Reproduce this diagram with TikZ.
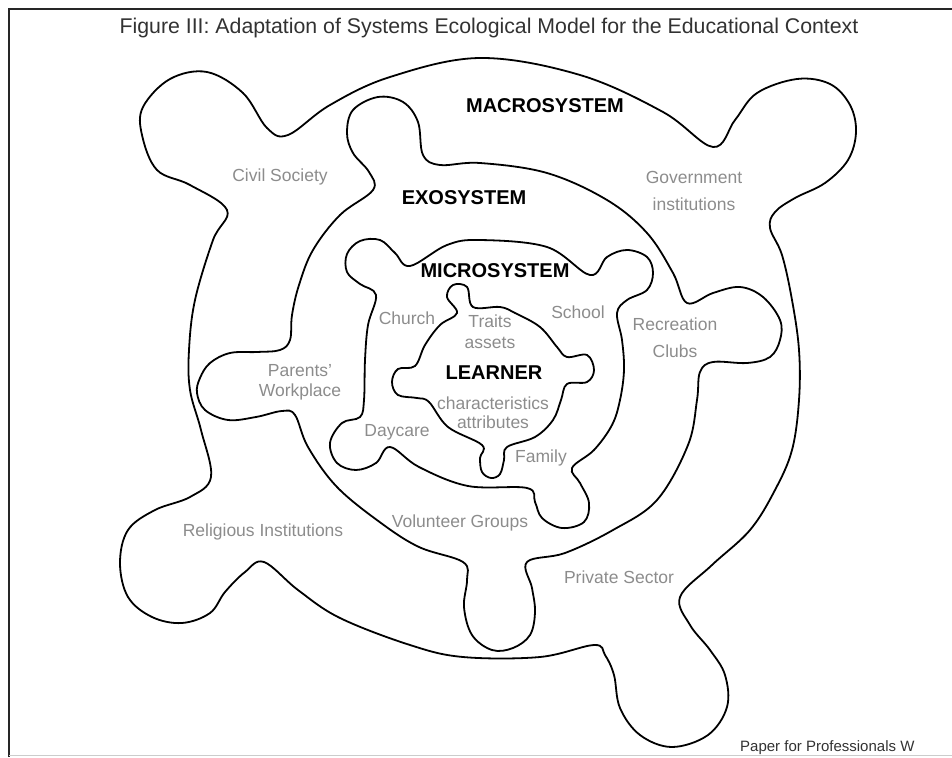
\documentclass[tikz,border=0pt]{standalone}
\usepackage{fontspec}
\setmainfont{Liberation Sans}
\usepackage{xcolor}
\usepackage{tikz}
\usetikzlibrary{positioning, calc}
\definecolor{labelgray}{RGB}{140,140,140}
\definecolor{titlegray}{RGB}{50,50,50}

\begin{document}
\begin{tikzpicture}[x=1pt, y=-1pt,
    ring/.style={draw=black, line width=1.8pt, smooth cycle, tension=0.6},
    system/.style={font=\fontsize{20}{20}\selectfont\bfseries, text=black, inner sep=0pt},
    setting/.style={font=\fontsize{17.5}{21}\selectfont, text=labelgray, align=center, inner sep=0pt}
]
    \useasboundingbox (0,0) rectangle (952,757);
    \draw[line width=2.5pt, black!85] (9,757) -- (9,9) -- (952,9);
    \draw[line width=1pt, black!20] (9,755) -- (952,755);

    \node[font=\fontsize{21.3}{22}\selectfont, text=titlegray] (title) at (489,28) {Figure III: Adaptation of Systems Ecological Model for the Educational Context};

    % macrosystem
    \draw[ring] plot coordinates {(480,58) (580,75) (663,112) (713,147) (735,120) (757,93) (797,79) (830,84) (850,105) (856,132) (848,160) (825,183) (795,198) (775,212) (770,228) (782,255) (792,300) (799,350) (799,400) (792,450) (775,490) (750,530) (712,565) (680,597) (690,625) (710,650) (725,675) (727,707) (708,735) (672,747) (640,735) (620,708) (614,675) (605,655) (594,645) (540,657) (463,657) (410,645) (340,618) (298,590) (264,562) (245,572) (225,592) (210,613) (182,623) (152,617) (128,597) (120,563) (128,530) (155,510) (190,497) (211,477) (201,430) (190,390) (189,350) (195,300) (213,240) (227,210) (190,185) (157,170) (142,135) (143,107) (170,79) (207,72) (243,93) (267,128) (288,135) (330,105) (390,77)};
    % exosystem
    \draw[ring] plot coordinates {(480,163) (547,173) (607,200) (647,233) (673,273) (687,303) (713,293) (740,287) (763,297) (780,320) (780,340) (770,357) (747,363) (713,362) (700,372) (697,400) (688,445) (657,500) (613,530) (565,553) (527,562) (532,588) (535,612) (530,635) (513,648) (492,650) (472,635) (464,607) (467,580) (463,562) (419,547) (381,523) (337,487) (308,447) (295,415) (282,411) (256,417) (228,420) (205,410) (197,393) (200,378) (210,363) (230,353) (257,352) (280,350) (290,340) (292,315) (299,285) (313,250) (340,215) (373,190) (369,172) (353,153) (347,133) (353,110) (378,97) (403,102) (418,122) (423,155) (440,165)};
    % microsystem
    \draw[ring] plot coordinates {(480,240) (547,247) (590,275) (607,257) (627,250) (647,257) (653,273) (647,290) (627,300) (617,313) (622,340) (624,370) (620,400) (612,425) (594,450) (572,468) (580,483) (589,503) (584,522) (562,528) (542,518) (535,502) (527,488) (468,486) (419,467) (390,447) (376,463) (356,470) (337,463) (330,443) (342,423) (360,417) (364,400) (365,360) (368,325) (376,295) (360,284) (347,272) (347,254) (360,241) (380,240) (395,253) (410,266) (447,245)};
    % learner
    \draw[ring] plot coordinates {(447,297) (453,285) (467,287) (473,307) (500,307) (515,313) (540,327) (557,347) (567,357) (587,355) (594,370) (587,382) (567,384) (561,400) (553,420) (535,437) (507,447) (504,460) (500,474) (491,478) (482,472) (480,458) (482,445) (448,427) (429,402) (417,398) (398,395) (392,382) (398,369) (415,366) (425,345) (440,325) (457,313)};

    \node[system] (macro) at (545,106) {MACROSYSTEM};
    \node[system] (exo) at (464,198) {EXOSYSTEM};
    \node[system] (micro) at (495,271) {MICROSYSTEM};
    \node[system] (learner) at (494,373) {LEARNER};

    \node[setting] (traits) at (490,332) {Traits\\assets};
    \node[setting] (attrib) at (493,413) {characteristics\\[-2pt]attributes};
    \node[setting] (church) at (407,318) {Church};
    \node[setting] (school) at (578,312) {School};
    \node[setting] (daycare) at (397,432) {Daycare};
    \node[setting] (family) at (541,458) {Family};
    \node[setting] (recreation) at (675,338) {Recreation\\[6pt]Clubs};
    \node[setting] (parents) at (300,382) {Parents'\\[-1pt]Workplace};
    \node[setting] (volunteer) at (460,523) {Volunteer Groups};
    \node[setting] (civil) at (280,177) {Civil Society};
    \node[setting] (government) at (694,191) {Government\\[6pt]institutions};
    \node[setting] (religious) at (263,532) {Religious Institutions};
    \node[setting] (private) at (619,577) {Private Sector};

    \node[font=\fontsize{15}{15}\selectfont, text=titlegray, anchor=west, inner sep=0pt] (source) at (740,748) {Paper for Professionals W};
\end{tikzpicture}
\end{document}
